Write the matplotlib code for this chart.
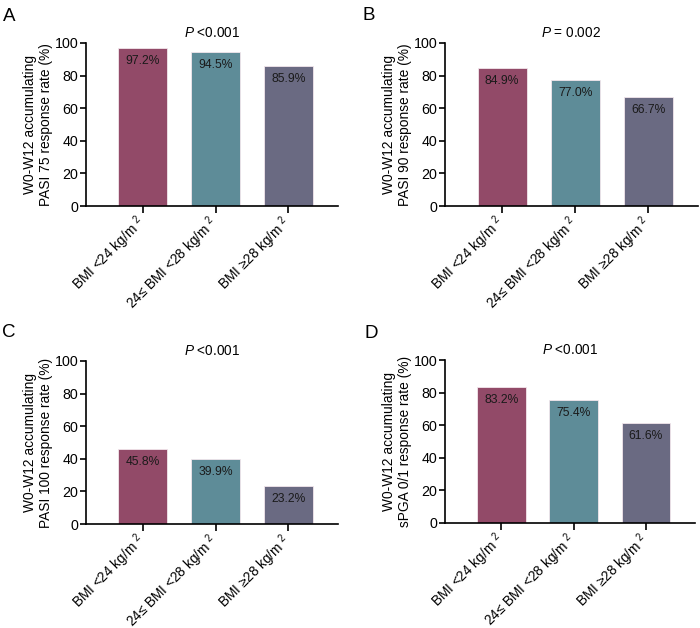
import matplotlib
matplotlib.use("Agg")
import matplotlib.pyplot as plt

plt.rcParams['font.family'] = ['Liberation Sans', 'DejaVu Sans']
plt.rcParams['mathtext.fontset'] = 'custom'
plt.rcParams['mathtext.rm'] = 'Liberation Sans'
plt.rcParams['mathtext.it'] = 'Liberation Sans:italic'

categories = ["BMI <24 kg/m $^{2}$", "24\u2264 BMI <28 kg/m $^{2}$", "BMI \u226528 kg/m $^{2}$"]
pasi75 = [97.2, 94.5, 85.9]
pasi90 = [84.9, 77.0, 66.7]
pasi100 = [45.8, 39.9, 23.2]
spga01 = [83.2, 75.4, 61.6]
ylabels = ["W0-W12 accumulating\nPASI 75 response rate (%)",
           "W0-W12 accumulating\nPASI 90 response rate (%)",
           "W0-W12 accumulating\nPASI 100 response rate (%)",
           "W0-W12 accumulating\nsPGA 0/1 response rate (%)"]
ptexts = ["<0.001", "= 0.002", "<0.001", "<0.001"]
panel_letters = ["A", "B", "C", "D"]
colors = ["#924A68", "#5E8C98", "#6A6A82"]

W, H = 700, 628
fig = plt.figure(figsize=(W / 100, H / 100), dpi=100)

# axes boxes in pixels: left, right, top(y=100), bottom(y=0)
boxes = [(86, 338, 43, 206), (445, 698, 43, 206),
         (86, 338, 361, 524), (445, 695, 360, 523)]
letter_pos = [(3, 21), (363, 20), (2, 337), (365, 338)]
datasets = [pasi75, pasi90, pasi100, spga01]

for i, (vals, box) in enumerate(zip(datasets, boxes)):
    l, r, t, b = box
    ax = fig.add_axes([l / W, (H - b) / H, (r - l) / W, (b - t) / H])
    x = list(range(len(categories)))
    ax.bar(x, vals, width=0.67, color=colors, edgecolor="#f2e6ec", linewidth=0.6)
    for xi, v in zip(x, vals):
        ax.annotate(f"{v:.1f}%", xy=(xi, v), xytext=(0, -5), textcoords="offset points",
                    ha="center", va="top", fontsize=8.7, color="#1a1a1a")
    ax.set_xlim(-0.78, 2.68)
    ax.set_ylim(0, 100)
    ax.set_yticks([0, 20, 40, 60, 80, 100])
    ax.set_xticks(x)
    ax.set_xticklabels(categories, rotation=45, ha="right", va="center",
                       rotation_mode="anchor", fontsize=9.8)
    ax.tick_params(axis="y", labelsize=10.3, width=1.2, length=4, pad=1.5)
    ax.tick_params(axis="x", width=1.2, length=5, pad=5)
    for s in ["top", "right"]:
        ax.spines[s].set_visible(False)
    for s in ["left", "bottom"]:
        ax.spines[s].set_linewidth(1.2)
    ax.set_ylabel(ylabels[i], fontsize=9.9, linespacing=1.15)
    ax.yaxis.set_label_coords(-33 / (r - l), 0.5)
    ax.set_title("$\\it{P}$ " + ptexts[i], fontsize=9.8, pad=4)
    lx, ly = letter_pos[i]
    fig.text(lx / W, 1 - ly / H, panel_letters[i], fontsize=13.5, ha="left", va="baseline")

fig.savefig("out.png", dpi=100)
